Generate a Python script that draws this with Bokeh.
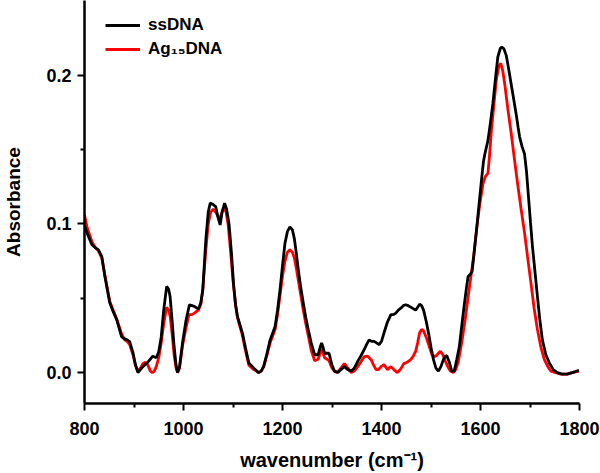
from bokeh.plotting import figure
from bokeh.models import (Range1d, FixedTicker, PrintfTickFormatter, Legend, LegendItem)
from bokeh.embed import file_html
from bokeh.resources import INLINE

# ---- data ----
ss_wn = [800, 805, 815, 822, 828, 835, 841, 851, 858, 865, 875, 881, 886, 891, 898, 903, 908, 913, 918, 928,
         938, 945, 950, 955, 960, 966, 970, 973, 977, 981, 985, 988, 992, 998, 1005, 1012, 1022, 1030, 1035, 1039,
         1045, 1050, 1054, 1060, 1065, 1070, 1074, 1078, 1083, 1087, 1092, 1097, 1101, 1105, 1109, 1119, 1125, 1132,
         1142, 1148, 1152, 1157, 1162, 1168, 1175, 1185, 1190, 1195, 1200, 1205, 1210, 1215, 1220, 1224, 1228, 1232,
         1237, 1242, 1247, 1252, 1258, 1265, 1272, 1276, 1279, 1282, 1285, 1290, 1294, 1300, 1305, 1312, 1318, 1325,
         1332, 1339, 1345, 1352, 1358, 1365, 1370, 1375, 1380, 1385, 1390, 1395, 1400, 1405, 1412, 1419, 1424, 1429,
         1434, 1439, 1444, 1449, 1454, 1459, 1464, 1469, 1473, 1477, 1481, 1485, 1490, 1495, 1500, 1505, 1510, 1515,
         1520, 1525, 1529, 1532, 1537, 1542, 1547, 1552, 1557, 1562, 1567, 1572, 1575, 1579, 1583, 1587, 1592, 1597,
         1602, 1606, 1609, 1615, 1620, 1625, 1630, 1635, 1640, 1643, 1647, 1652, 1657, 1662, 1667, 1672, 1676, 1679,
         1684, 1689, 1693, 1697, 1701, 1705, 1710, 1715, 1720, 1725, 1732, 1739, 1747, 1755, 1765, 1775, 1785, 1792,
         1799]
ss_abs = [0.099, 0.094, 0.086, 0.084, 0.0825, 0.078, 0.065, 0.047, 0.041, 0.0356, 0.024, 0.0228, 0.022, 0.021,
          0.0134, 0.005, 0.0, 0.002, 0.004, 0.007, 0.011, 0.010, 0.014, 0.024, 0.042, 0.058, 0.056, 0.051, 0.035,
          0.0177, 0.005, 0.0, 0.004, 0.020, 0.035, 0.0456, 0.0445, 0.0427, 0.047, 0.0557, 0.089, 0.108, 0.114, 0.113,
          0.1117, 0.104, 0.0993, 0.108, 0.114, 0.110, 0.100, 0.080, 0.060, 0.046, 0.0378, 0.0266, 0.017, 0.0065,
          0.003, 0.001, 0.0, 0.001, 0.0042, 0.012, 0.022, 0.031, 0.042, 0.0557, 0.072, 0.087, 0.095, 0.098, 0.096,
          0.090, 0.080, 0.069, 0.057, 0.0468, 0.037, 0.029, 0.020, 0.012, 0.012, 0.017, 0.020, 0.017, 0.013, 0.013,
          0.013, 0.005, 0.001, 0.0, 0.002, 0.004, 0.002, 0.001, 0.003, 0.0076, 0.011, 0.0154, 0.019, 0.022, 0.021,
          0.021, 0.020, 0.0188, 0.021, 0.0266, 0.034, 0.039, 0.039, 0.040, 0.042, 0.0433, 0.045, 0.0456, 0.045, 0.044,
          0.043, 0.042, 0.044, 0.046, 0.045, 0.042, 0.035, 0.0266, 0.017, 0.0087, 0.003, 0.001, 0.004, 0.0087, 0.011,
          0.0114, 0.007, 0.001, 0.001, 0.0087, 0.017, 0.031, 0.045, 0.058, 0.0646, 0.066, 0.068, 0.080, 0.096, 0.113,
          0.1295, 0.142, 0.1474, 0.156, 0.168, 0.181, 0.197, 0.2123, 0.218, 0.219, 0.218, 0.2134, 0.204, 0.194, 0.184,
          0.174, 0.165, 0.1586, 0.152, 0.147, 0.135, 0.118, 0.101, 0.0848, 0.068, 0.0512, 0.035, 0.022, 0.012,
          0.0065, 0.002, 0.0, -0.001, -0.001, 0.0, 0.0007, 0.0015]

ag_wn = [800, 805, 815, 822, 828, 835, 841, 851, 858, 865, 875, 881, 886, 891, 898, 903, 908, 913, 918, 923,
         928, 933, 937, 941, 945, 950, 955, 960, 966, 970, 973, 977, 981, 985, 988, 992, 998, 1005, 1011, 1017,
         1022, 1030, 1035, 1039, 1045, 1050, 1055, 1060, 1065, 1070, 1074, 1078, 1082, 1086, 1090, 1095, 1100, 1105,
         1109, 1119, 1125, 1132, 1142, 1148, 1152, 1157, 1162, 1168, 1175, 1185, 1190, 1195, 1200, 1205, 1210, 1215,
         1220, 1224, 1228, 1232, 1237, 1242, 1247, 1252, 1258, 1265, 1272, 1276, 1279, 1282, 1285, 1290, 1294, 1300,
         1305, 1310, 1318, 1325, 1332, 1339, 1345, 1352, 1358, 1365, 1372, 1379, 1384, 1389, 1394, 1399, 1405, 1412,
         1419, 1425, 1432, 1438, 1445, 1452, 1459, 1464, 1469, 1473, 1477, 1481, 1485, 1490, 1495, 1502, 1506, 1510,
         1515, 1519, 1524, 1529, 1534, 1539, 1545, 1550, 1555, 1562, 1569, 1575, 1580, 1586, 1592, 1598, 1605, 1610,
         1615, 1618, 1622, 1627, 1632, 1637, 1641, 1645, 1649, 1655, 1662, 1668, 1675, 1682, 1689, 1695, 1702, 1708,
         1715, 1722, 1729, 1736, 1742, 1752, 1762, 1775, 1785, 1792, 1799]
ag_abs = [0.106, 0.098, 0.088, 0.084, 0.082, 0.077, 0.066, 0.048, 0.042, 0.036, 0.026, 0.022, 0.021, 0.019, 0.012,
          0.005, 0.001, 0.003, 0.006, 0.007, 0.005, 0.001, 0.0, 0.001, 0.004, 0.010, 0.020, 0.033, 0.044, 0.042,
          0.038, 0.026, 0.012, 0.003, 0.0, 0.003, 0.018, 0.030, 0.039, 0.039, 0.040, 0.042, 0.046, 0.056, 0.082,
          0.100, 0.108, 0.110, 0.108, 0.105, 0.104, 0.108, 0.111, 0.108, 0.100, 0.082, 0.062, 0.046, 0.037, 0.025,
          0.015, 0.005, 0.002, 0.001, 0.0, 0.001, 0.004, 0.011, 0.020, 0.029, 0.039, 0.052, 0.065, 0.075, 0.081,
          0.0826, 0.081, 0.077, 0.070, 0.062, 0.052, 0.042, 0.033, 0.025, 0.015, 0.008, 0.009, 0.013, 0.016, 0.013,
          0.010, 0.009, 0.008, 0.003, 0.001, 0.0, 0.003, 0.006, 0.003, 0.0, 0.001, 0.004, 0.007, 0.0107, 0.011,
          0.0087, 0.005, 0.002, 0.002, 0.004, 0.0054, 0.002, 0.004, 0.002, 0.0, 0.002, 0.006, 0.007, 0.0087, 0.011,
          0.0143, 0.020, 0.0266, 0.029, 0.028, 0.024, 0.019, 0.012, 0.011, 0.011, 0.013, 0.0143, 0.012, 0.0076, 0.004,
          0.001, 0.0, 0.002, 0.007, 0.020, 0.0356, 0.051, 0.063, 0.078, 0.096, 0.112, 0.127, 0.132, 0.134, 0.145,
          0.163, 0.180, 0.197, 0.206, 0.208, 0.203, 0.194, 0.178, 0.161, 0.145, 0.127, 0.110, 0.094, 0.078, 0.060,
          0.044, 0.029, 0.017, 0.0087, 0.004, 0.001, 0.0, -0.001, -0.001, 0.0, 0.0005, 0.001]

x_ticks = [800, 1000, 1200, 1400, 1600, 1800]
x_minor = [900, 1100, 1300, 1500, 1700]
y_ticks = [0.0, 0.1, 0.2]
y_minor = [0.05, 0.15]
series_names = ["ssDNA", "Ag\u2081\u2085DNA"]
series_colors = ["#000000", "#ff0000"]

FONT = "Liberation Sans"

p = figure(width=600, height=473, output_backend="svg", toolbar_location=None, title=None,
           x_range=Range1d(800, 1800), y_range=Range1d(-0.0208, 0.2503),
           min_border_left=79, min_border_right=21, min_border_top=0, min_border_bottom=69)
p.outline_line_color = None
p.xgrid.visible = False
p.ygrid.visible = False

r_ag = p.line(ag_wn, ag_abs, line_color=series_colors[1], line_width=2.8)
r_ss = p.line(ss_wn, ss_abs, line_color=series_colors[0], line_width=2.8)

for ax in (p.xaxis[0], p.yaxis[0]):
    ax.axis_line_width = 2.5
    ax.axis_line_color = "black"
    ax.major_tick_line_width = 2
    ax.minor_tick_line_width = 2
    ax.major_tick_line_color = "black"
    ax.minor_tick_line_color = "black"
    ax.major_tick_out = 7
    ax.major_tick_in = 0
    ax.minor_tick_out = 4
    ax.minor_tick_in = 0
    ax.major_label_text_font = FONT
    ax.major_label_text_font_style = "bold"
    ax.major_label_text_font_size = "18px"
    ax.major_label_text_color = "black"
    ax.axis_label_text_font = FONT
    ax.axis_label_text_font_style = "bold"
    ax.axis_label_text_color = "black"

p.xaxis[0].ticker = FixedTicker(ticks=x_ticks, minor_ticks=x_minor)
p.yaxis[0].ticker = FixedTicker(ticks=y_ticks, minor_ticks=y_minor)
p.yaxis[0].formatter = PrintfTickFormatter(format="%.1f")
p.xaxis[0].axis_label = "wavenumber (cm\u207b\u00b9)"
p.yaxis[0].axis_label = "Absorbance"
p.xaxis[0].axis_label_text_font_size = "20px"
p.yaxis[0].axis_label_text_font_size = "19px"
p.xaxis[0].major_label_standoff = 11
p.yaxis[0].major_label_standoff = 6
p.xaxis[0].axis_label_standoff = 11
p.yaxis[0].axis_label_standoff = 19

legend = Legend(items=[LegendItem(label=series_names[0], renderers=[r_ss]),
                       LegendItem(label=series_names[1], renderers=[r_ag])],
                location=(21, 344), orientation="vertical")
legend.border_line_color = None
legend.background_fill_alpha = 0
legend.padding = 5
legend.margin = 0
legend.spacing = 4
legend.glyph_width = 35
legend.glyph_height = 20
legend.label_height = 20
legend.label_standoff = 8
legend.label_text_font = FONT
legend.label_text_font_style = "bold"
legend.label_text_font_size = "17px"
legend.label_text_color = "black"
p.add_layout(legend, "center")

open("out.html", "w").write(file_html(p, INLINE))
